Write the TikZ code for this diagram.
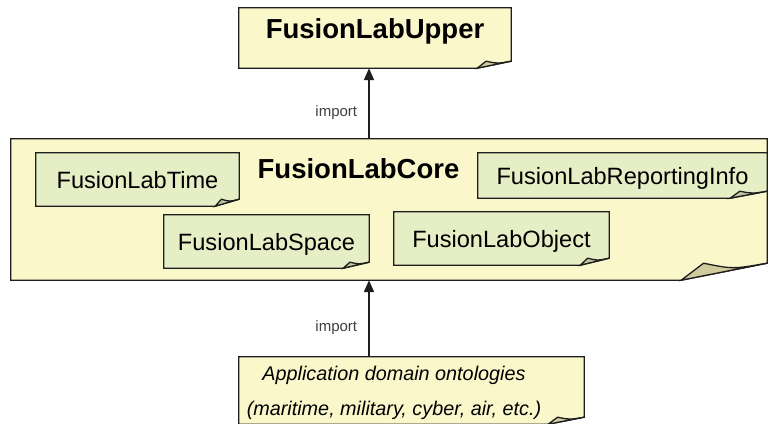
\documentclass[tikz,border=0pt]{standalone}
\usepackage{fontspec}
\setmainfont{Liberation Sans}
\usetikzlibrary{calc,arrows.meta}

\definecolor{papercream}{HTML}{FAF7CB}
\definecolor{papergreen}{HTML}{E6EEC6}
\definecolor{flapcream}{HTML}{CFCB9D}
\definecolor{flapgreen}{HTML}{BFC89E}
\definecolor{edgecol}{HTML}{1E1E1E}
\definecolor{importcol}{HTML}{404040}

\pgfdeclarelayer{back}
\pgfdeclarelayer{mid}
\pgfsetlayers{back,mid,main}

% sheet with curled corner: node, layer, fill, flap fill, curl width, curl height
\newcommand{\sheet}[6]{%
  \begin{pgfonlayer}{#2}
    \draw[sheetline, fill=#3] (#1.north west) -- (#1.north east)
      -- ($(#1.south east)+(0,-#6)$) -- ($(#1.south east)+(-#5,0)$)
      -- (#1.south west) -- cycle;
    \draw[sheetline, fill=#4] ($(#1.south east)+(-#5,0)$)
      -- ($(#1.south east)+({-0.74*#5},-#6)$)
      .. controls ($(#1.south east)+({-0.4*#5},{-0.65*#6})$) .. ($(#1.south east)+(0,-#6)$)
      -- cycle;
  \end{pgfonlayer}}

\begin{document}
\begin{tikzpicture}[x=1pt, y=-1pt,
    sheetline/.style={draw=edgecol, line width=1.3pt, line join=miter},
    paper/.style={rectangle, inner sep=0pt},
    part/.style={paper, font=\fontsize{23.6}{28}\selectfont, text height=17pt, text depth=0pt, minimum height=53pt},
    headtext/.style={font=\bfseries\fontsize{27.5}{32}\selectfont, inner sep=0pt, anchor=base},
    imparrow/.style={draw=edgecol, line width=1.8pt, -{Triangle[length=12pt,width=10pt]}},
    importlbl/.style={font=\fontsize{15}{18}\selectfont, text=importcol, inner sep=0pt, left=11pt, pos=0.375}]
  \useasboundingbox (0,0) rectangle (768,423);

  % outer sheets
  \node[paper, minimum width=272pt, minimum height=60pt] (upper) at (375,38) {};
  \node[paper, minimum width=756pt, minimum height=141pt] (core) at (389,209.5) {};
  \node[paper, minimum width=345pt, minimum height=67pt] (appl) at (411.5,390.5) {};
  \sheet{upper}{back}{papercream}{flapcream}{34}{7}
  \sheet{core}{back}{papercream}{flapcream}{86}{17}
  \sheet{appl}{back}{papercream}{flapcream}{36}{7}

  % titles
  \node[headtext] (uppertitle) at (375,38) {FusionLabUpper};
  \node[headtext] (coretitle) at (358.5,178) {FusionLabCore};

  % modules of the core
  \node[part, minimum width=203pt] (time) at (137.5,179.5) {FusionLabTime};
  \node[part, minimum width=205pt] (space) at (266.5,241.5) {FusionLabSpace};
  \node[part, minimum width=289pt, minimum height=45pt] (report) at (622.5,175.5) {FusionLabReportingInfo};
  \node[part, minimum width=215pt] (object) at (501.5,238.5) {FusionLabObject};
  \sheet{time}{mid}{papergreen}{flapgreen}{24}{7}
  \sheet{space}{mid}{papergreen}{flapgreen}{26}{6}
  \sheet{report}{mid}{papergreen}{flapgreen}{37}{7}
  \sheet{object}{mid}{papergreen}{flapgreen}{29}{7}

  % domain ontologies
  \node[font=\itshape\fontsize{19.8}{35}\selectfont, align=center, inner sep=0pt, anchor=base] (appltext) at (394,415)
    {Application domain ontologies\\(maritime, military, cyber, air, etc.)};

  % imports
  \coordinate (ax) at (369,0);
  \draw[imparrow] (core.north -| ax) -- node[importlbl] {import} (upper.south -| ax);
  \draw[imparrow] (appl.north -| ax) -- node[importlbl] {import} (core.south -| ax);
\end{tikzpicture}
\end{document}
